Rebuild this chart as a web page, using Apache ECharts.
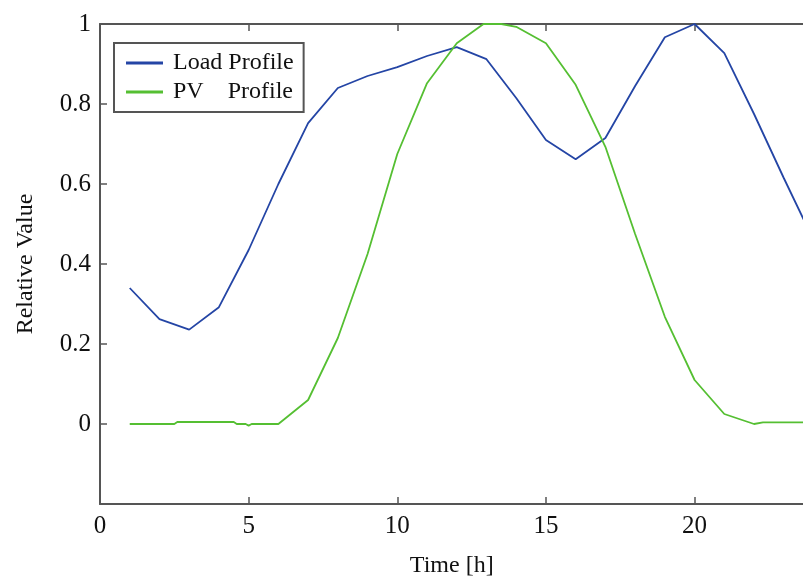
<!DOCTYPE html>
<html>
<head>
<meta charset="utf-8">
<script src="https://cdn.jsdelivr.net/npm/echarts@6/dist/echarts.min.js"></script>
<style>
html,body{margin:0;padding:0;background:#fff;overflow:hidden;}
#chart{width:803px;height:584px;}
</style>
</head>
<body>
<div id="chart"></div>
<script>
const loadName = 'Load Profile';
const pvName = 'PV    Profile';
const loadHours = [1,2,3,4,5,6,7,8,9,10,11,12,13,14,15,16,17,18,19,20,21,22,23,24];
const loadValues = [0.34,0.262,0.236,0.292,0.435,0.6,0.752,0.84,0.87,0.892,0.92,0.942,0.912,0.815,0.71,0.662,0.715,0.845,0.967,1.0,0.927,0.775,0.615,0.46];
const pvHours = [1,2.5,2.6,4.5,4.6,4.9,5,5.1,6,7,8,9,10,11,12,12.9,13.5,14,15,16,17,18,19,20,21,22,22.3,24];
const pvValues = [0,0,0.005,0.005,0,0,-0.004,0,0,0.06,0.215,0.425,0.675,0.852,0.952,1.0,1.0,0.993,0.952,0.848,0.693,0.475,0.268,0.11,0.025,0.0,0.004,0.004];
const xTicks = [0,5,10,15,20];
const yTicks = [0,0.2,0.4,0.6,0.8,1];

const FONT = 'Liberation Serif';
const AXC = '#555555';

const chart = echarts.init(document.getElementById('chart'), null, {renderer:'canvas'});
chart.setOption({
  animation:false,
  backgroundColor:'#ffffff',
  grid:{left:100, top:24, width:713.5, height:480, containLabel:false, outerBoundsMode:'none'},
  legend:{
    left:114, top:43,
    orient:'vertical',
    data:[loadName, pvName],
    icon:'rect', itemWidth:37, itemHeight:3, itemGap:5,
    padding:[8,10,8,12],
    borderColor:'#555', borderWidth:2,
    backgroundColor:'#fff',
    textStyle:{fontFamily:FONT, fontSize:24, color:'#111', padding:[0,0,0,5]}
  },
  xAxis:[{
    type:'value', min:0, max:24, interval:5, position:'bottom',
    name:'Time [h]', nameLocation:'middle', nameGap:50,
    nameTextStyle:{fontFamily:FONT, fontSize:24, color:'#111', padding:[0,10,0,0]},
    axisLine:{show:true, onZero:false, lineStyle:{color:AXC, width:2}},
    axisTick:{show:true, inside:true, length:7, lineStyle:{color:AXC, width:1.5}},
    axisLabel:{fontFamily:FONT, fontSize:25, color:'#111', margin:10,
      formatter:v => xTicks.includes(v) ? String(v) : ''},
    splitLine:{show:false}
  },{
    type:'value', min:0, max:24, interval:5, position:'top',
    axisLine:{show:true, onZero:false, lineStyle:{color:AXC, width:2}},
    axisTick:{show:true, inside:true, length:7, lineStyle:{color:AXC, width:1.5}},
    axisLabel:{show:false},
    splitLine:{show:false}
  }],
  yAxis:{
    type:'value', min:-0.2, max:1, interval:0.2,
    name:'Relative Value', nameLocation:'middle', nameGap:62,
    nameTextStyle:{fontFamily:FONT, fontSize:24, color:'#111'},
    axisLine:{show:true, onZero:false, lineStyle:{color:AXC, width:2}},
    axisTick:{show:true, inside:true, length:7, lineStyle:{color:AXC, width:1.5}},
    axisLabel:{fontFamily:FONT, fontSize:25, color:'#111', margin:9,
      formatter:v => {
        const r = Math.round(v*10)/10;
        return yTicks.some(t => Math.abs(t-r)<1e-9) ? String(r) : '';
      }},
    splitLine:{show:false}
  },
  series:[{
    name:loadName, type:'line', xAxisIndex:0,
    data:loadHours.map((h,i)=>[h, loadValues[i]]),
    symbol:'none', color:'#2445a5',
    lineStyle:{color:'#2445a5', width:1.8}
  },{
    name:pvName, type:'line', xAxisIndex:0,
    data:pvHours.map((h,i)=>[h, pvValues[i]]),
    symbol:'none', color:'#55bf32',
    lineStyle:{color:'#55bf32', width:1.8}
  }]
});
</script>
</body>
</html>
